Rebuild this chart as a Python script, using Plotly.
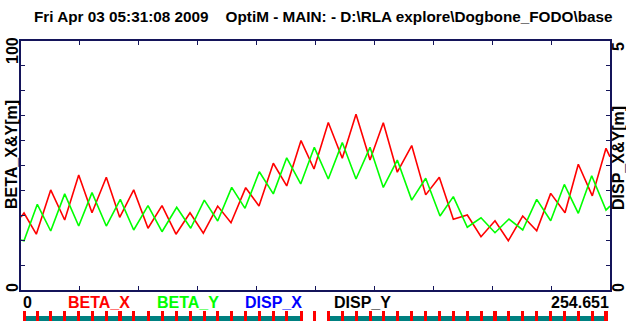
import plotly.graph_objects as go

W, H = 626, 321

# ---- data ----
s_max = 254.651
beta_x_s = [0.0, 1.30, 6.61, 12.84, 18.89, 24.95, 30.70, 36.88, 42.67, 48.73, 54.91, 60.96,
            67.01, 73.07, 78.82, 85.04, 90.79, 97.15, 102.90, 109.08, 114.88, 121.06, 126.68,
            132.86, 138.91, 144.84, 150.89, 156.64, 162.69, 168.92, 174.97, 180.85, 186.91,
            192.96, 198.88, 204.93, 210.68, 216.91, 222.96, 229.01, 235.20, 240.95, 247.0,
            252.92, 254.651]
beta_x = [29.3, 30.9, 22.4, 40.2, 28.1, 46.2, 31.0, 45.3, 29.2, 40.2, 24.8, 33.9,
          22.4, 31.0, 22.8, 33.7, 27.0, 41.1, 33.7, 50.9, 41.8, 60.0, 48.6,
          67.3, 52.9, 70.6, 52.2, 67.2, 47.3, 58.0, 38.2, 45.3, 28.4,
          30.1, 21.4, 27.8, 19.8, 29.7, 23.8, 38.8, 31.0, 50.5, 37.8,
          56.9, 53.5]
beta_y_s = [0.0, 1.30, 7.05, 12.84, 18.89, 24.95, 30.70, 36.88, 42.93, 48.73, 54.91, 60.96,
            67.32, 73.37, 79.25, 85.04, 91.10, 96.85, 103.03, 109.08, 114.88, 120.93, 126.81,
            132.86, 138.91, 144.84, 150.89, 156.64, 162.69, 168.92, 174.97, 181.16, 186.91,
            192.96, 198.88, 204.93, 210.98, 216.91, 222.96, 229.01, 234.90, 240.95, 246.74,
            252.92, 254.651]
beta_y = [20.1, 19.8, 34.4, 23.7, 38.6, 25.7, 39.1, 25.7, 36.4, 24.1, 33.9, 23.4,
          33.2, 24.8, 36.1, 27.7, 41.2, 32.8, 47.5, 38.6, 53.1, 42.6, 57.3,
          44.6, 59.2, 44.6, 57.3, 41.2, 52.2, 36.1, 44.9, 29.7, 37.5,
          25.2, 29.0, 23.0, 28.5, 24.1, 36.4, 27.8, 42.4, 30.8, 45.9,
          32.1, 33.7]

# lattice: quadrupole positions [m]; no bends in the straight cells listed
quad_s = [1.30, 7.05, 12.84, 18.89, 24.95, 30.70, 36.88, 42.80, 48.73, 54.91, 60.96,
          67.14, 73.07, 79.12, 85.04, 90.92, 97.15, 102.99, 109.08, 114.88, 121.06,
          126.77, 132.86, 138.91, 144.84, 150.89, 156.64, 162.69, 168.92, 174.97,
          180.94, 186.91, 192.96, 198.88, 204.93, 210.85, 216.91, 222.96, 229.01,
          235.06, 240.95, 246.87, 252.92]
straight_cells = [20, 21]   # quad index after which no dipole follows
quad_len = 1.3

y_left_range = [0, 100]
y_right_range = [0, 5]
left_labels = ["0", "100"]
right_labels = ["0", "5"]
x_labels = ["0", "254.651"]
legend_names = ["BETA_X", "BETA_Y", "DISP_X", "DISP_Y"]
legend_colors = ["#ff0000", "#00ff00", "#0000ff", "#000000"]
title = "Fri Apr 03 05:31:08 2009    OptiM - MAIN: - D:\\RLA explore\\Dogbone_FODO\\base"

# ---- geometry helpers (pixel -> paper) ----
def px(x):
    return x / W

def py(y):
    return 1 - y / H

X0, X1, Y0, Y1 = 21, 610, 41, 290
FONT = "Liberation Sans, Arial, sans-serif"
FRAME = "#14145a"

fig = go.Figure()

fig.add_trace(go.Scatter(x=beta_x_s, y=beta_x, mode="lines",
                         line=dict(color="#ff0000", width=1.6), xaxis="x", yaxis="y"))
fig.add_trace(go.Scatter(x=beta_y_s, y=beta_y, mode="lines",
                         line=dict(color="#00ff00", width=1.6), xaxis="x", yaxis="y"))

# lattice strip
dip_c, dip_w = [], []
for i in range(len(quad_s) - 1):
    if i in straight_cells:
        continue
    a = quad_s[i]
    b = quad_s[i + 1]
    dip_c.append((a + b) / 2)
    dip_w.append(b - a)
fig.add_trace(go.Bar(x=dip_c, y=[0.5] * len(dip_c), width=dip_w, base=0,
                     marker=dict(color="#008080", line=dict(width=0)),
                     xaxis="x2", yaxis="y3"))
fig.add_trace(go.Bar(x=quad_s, y=[1.0] * len(quad_s), width=[quad_len] * len(quad_s), base=0,
                     marker=dict(color="#ff0000", line=dict(width=0)),
                     xaxis="x2", yaxis="y3"))

axis_common = dict(showgrid=False, zeroline=False, showline=True, linecolor=FRAME,
                   linewidth=1.5, ticks="inside", ticklen=4, tickcolor=FRAME,
                   tickwidth=1, mirror="ticks", showticklabels=False)

fig.update_layout(
    width=W, height=H,
    margin=dict(l=0, r=0, t=0, b=0),
    paper_bgcolor="white", plot_bgcolor="white",
    showlegend=False, bargap=0,
    xaxis=dict(domain=[px(X0), px(X1)], range=[0, s_max], dtick=s_max / 10, tick0=0,
               anchor="y", **axis_common),
    yaxis=dict(domain=[py(Y1), py(Y0)], range=y_left_range, dtick=10, anchor="x",
               **axis_common),
    xaxis2=dict(domain=[px(X0), px(X1)], range=[0, s_max], visible=False, anchor="y3"),
    yaxis3=dict(domain=[0, py(311)], range=[0, 1], visible=False, anchor="x2"),
)

ann = []
def add(text, x, y, xa="center", ya="middle", color="#000000", size=16, angle=0):
    ann.append(dict(text=text, x=x, y=y, xref="paper", yref="paper", xanchor=xa, yanchor=ya,
                    showarrow=False, textangle=angle,
                    font=dict(family=FONT, size=size, color=color, weight="bold")))

add(title, px(32), py(16), xa="left", size=15.3)
add("BETA_X&Y[m]", px(12), py(155), angle=-90)
add(left_labels[1], px(12), py(51), angle=-90)
add(left_labels[0], px(12), py(288), angle=-90)
add("DISP_X&Y[m]", px(618), py(158), angle=-90)
add(right_labels[1], px(618), py(47), angle=-90)
add(right_labels[0], px(618), py(288), angle=-90)
add(x_labels[0], px(21), py(302), xa="left")
add(x_labels[1], px(611), py(302), xa="right")
leg_x = [99, 188, 273, 362]
for name, col, lx in zip(legend_names, legend_colors, leg_x):
    add(name, px(lx), py(302), color=col)

fig.update_layout(annotations=ann)
fig.write_html("out.html", post_script="document.body.style.margin='0';",
               config={"displayModeBar": False})
